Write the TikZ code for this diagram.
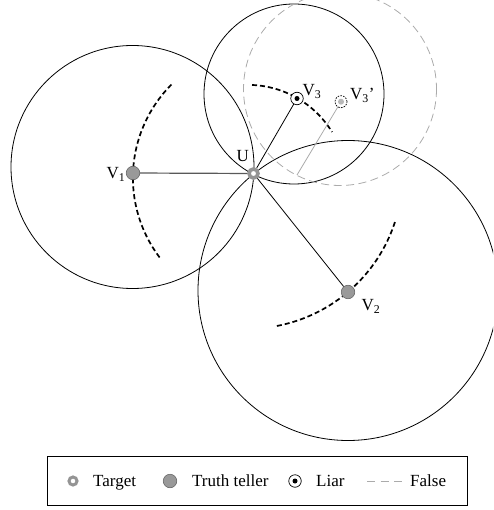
\documentclass[tikz,border=0pt]{standalone}
\usepackage{fontspec}
\setmainfont{Liberation Serif}
\begin{document}
\begin{tikzpicture}[x=1pt,y=-1pt,
  circ/.style={line width=0.8pt},
  falsecirc/.style={line width=0.8pt, draw=black!33, dash pattern=on 8pt off 4.5pt},
  meas/.style={line width=1.7pt, dash pattern=on 5pt off 3pt},
  lbl/.style={font=\fontsize{17}{20}\selectfont, inner sep=0pt, anchor=base west},
  truth/.style={circle, fill=black!40, draw=black!60, line width=0.6pt, minimum size=13.5pt, inner sep=0pt},
  target/.style={circle, fill=white, draw=black!42, line width=3.6pt, minimum size=9pt, inner sep=0pt},
  liar/.style={circle, fill=white, draw=black, line width=0.7pt, minimum size=12.5pt, inner sep=0pt,
    path picture={\fill[black] (path picture bounding box.center) circle[radius=2.5];}},
  fliar/.style={circle, fill=white, draw=black, line width=0.7pt, dash pattern=on 1.6pt off 1.2pt, minimum size=12pt, inner sep=0pt,
    path picture={\fill[black!28] (path picture bounding box.center) circle[radius=3];}},
  link/.style={line width=0.8pt},
  truelink/.style={line width=1.2pt, draw=black!65},
  falselink/.style={line width=0.8pt, draw=black!33}
]
\useasboundingbox (0,0) rectangle (493,510);
% range circles
\begin{scope}
\clip (0,0) rectangle (493,510);
\coordinate (c1) at (132.5,167);
\coordinate (c3) at (294,94);
\coordinate (cf) at (340,89);
\coordinate (c2) at (348,290.5);
\draw[circ] (c1) circle[radius=121.5];
\draw[circ] (c3) circle[radius=90];
\draw[falsecirc] (cf) circle[radius=96.5];
\draw[circ] (c2) circle[radius=150];
\end{scope}
% measured distance arcs
\draw[meas] plot[domain=-135.1:-217.4, samples=50] ({265+132.1*cos(\x)}, {177.8+132.1*sin(\x)});
\draw[meas] plot[domain=-87.6:-31.5, samples=40] ({247.9+98.7*cos(\x)}, {183.6+98.7*sin(\x)});
\draw[meas] plot[domain=79.2:18.1, samples=50] ({247.9+154.7*cos(\x)}, {174+154.7*sin(\x)});
% nodes
\node[target] (U) at (253.5,173.5) {};
\node[truth] (V1) at (133,173) {};
\node[truth] (V2) at (348,292) {};
\node[liar] (V3) at (297,98.5) {};
\node[fliar] (V3f) at (341,101.7) {};
\coordinate (g) at (297,175);
% connectors
\draw[truelink] (V1) -- (U);
\draw[link] (U) -- (V3);
\draw[link] (U) -- (V2);
\draw[falselink] (V3f) -- (g);
% labels
\node[lbl] (lU) at (236.5,161.5) {U};
\node[lbl] (lV1) at (106.5,178.5) {V\textsubscript{1}};
\node[lbl] (lV3) at (302.5,95.5) {V\textsubscript{3}};
\node[lbl] (lV3f) at (350,100) {V\textsubscript{3}'};
\node[lbl] (lV2) at (361.5,310.5) {V\textsubscript{2}};
% legend
\node[draw, line width=0.8pt, minimum width=420pt, minimum height=49pt, inner sep=0pt] (legend) at (257,480.5) {};
\node[target, line width=3pt, minimum size=8pt] (sT) at (73,481) {};
\node[lbl] (tT) at (93,486.5) {Target};
\node[truth] (sTT) at (170,481) {};
\node[lbl] (tTT) at (192,486.5) {Truth teller};
\node[liar] (sL) at (295,481) {};
\node[lbl] (tL) at (316,486.5) {Liar};
\coordinate (d1) at (367,481);
\coordinate (d2) at (402,481);
\draw[line width=0.8pt, draw=black!33, dash pattern=on 8pt off 5.5pt] (d1) -- (d2);
\node[lbl] (tF) at (410,486.5) {False};
\end{tikzpicture}
\end{document}
